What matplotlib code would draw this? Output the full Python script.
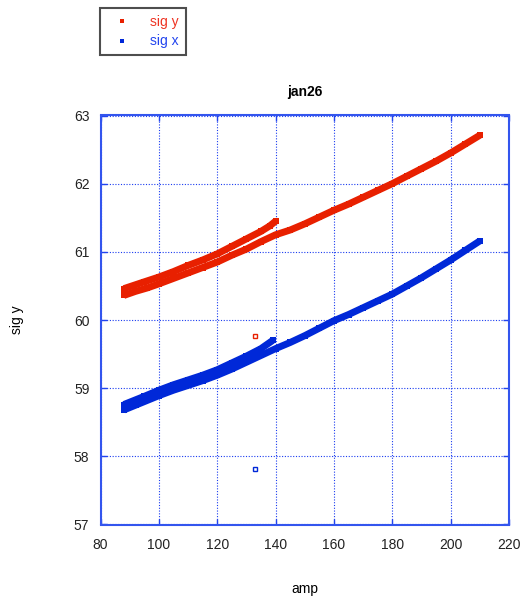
import matplotlib.pyplot as plt

plt.rcParams['font.family'] = ['Liberation Sans', 'DejaVu Sans']

# sig y (red): main band and the short upper branch
sigy_amp = [88, 92, 96, 100, 105, 110, 115, 120, 125, 130, 135, 140, 145, 150,
            155, 160, 165, 170, 175, 180, 185, 190, 195, 200, 205, 210]
sigy_val = [60.36, 60.42, 60.47, 60.53, 60.61, 60.69, 60.77, 60.85, 60.95, 61.04,
            61.15, 61.25, 61.32, 61.41, 61.51, 61.61, 61.70, 61.80, 61.90, 62.00,
            62.11, 62.22, 62.33, 62.45, 62.58, 62.71]
sigy_amp2 = [88, 95, 100, 105, 110, 115, 120, 125, 130, 135, 138, 140]
sigy_val2 = [60.46, 60.56, 60.63, 60.71, 60.80, 60.88, 60.97, 61.08, 61.19, 61.30, 61.38, 61.45]

# sig x (blue)
sigx_amp = [88, 92, 96, 100, 105, 110, 115, 120, 125, 130, 135, 140, 145, 150,
            155, 160, 165, 170, 175, 180, 185, 190, 195, 200, 205, 210]
sigx_val = [58.68, 58.75, 58.82, 58.89, 58.97, 59.04, 59.11, 59.19, 59.28, 59.38,
            59.48, 59.58, 59.67, 59.77, 59.88, 59.99, 60.08, 60.18, 60.28, 60.38,
            60.50, 60.62, 60.75, 60.88, 61.02, 61.16]
sigx_amp2 = [88, 95, 100, 105, 110, 115, 120, 125, 130, 135, 139]
sigx_val2 = [58.76, 58.88, 58.97, 59.05, 59.12, 59.19, 59.27, 59.37, 59.47, 59.58, 59.70]

# stray points
out_amp = [133, 133]
out_sigy = [59.77]
out_sigx = [57.82]

red = '#e82000'
blue = '#0028d8'

fig = plt.figure(figsize=(5.22, 5.96), dpi=100)
ax = fig.add_axes([100.5 / 522, 1 - 524.5 / 596, 408.5 / 522, 409 / 596])

for a, v in [(sigy_amp, sigy_val), (sigy_amp2, sigy_val2)]:
    ax.plot(a, v, color=red, lw=5, solid_capstyle='butt', solid_joinstyle='round',
            marker='s', ms=4.5, mew=0)
for a, v in [(sigx_amp, sigx_val), (sigx_amp2, sigx_val2)]:
    ax.plot(a, v, color=blue, lw=5, solid_capstyle='butt', solid_joinstyle='round',
            marker='s', ms=4.5, mew=0)
ax.plot(out_amp[0], out_sigy[0], 's', ms=3, mfc='none', mec=red, mew=1)
ax.plot(out_amp[1], out_sigx[0], 's', ms=3, mfc='none', mec=blue, mew=1)

ax.set_xlim(80, 220)
ax.set_ylim(57, 63)
ax.set_xticks(range(80, 221, 20))
ax.set_yticks(range(57, 64))
ax.grid(True, color='#1a3cf0', linestyle=(0, (1, 1.5)), linewidth=0.8)
for s in ax.spines.values():
    s.set_color('#3355ee')
    s.set_linewidth(1.5)
ax.tick_params(direction='in', length=4, width=1, color='#2244ee',
               top=True, right=True, labelsize=10, colors='#2244ee',
               labelcolor='#222222')
ax.tick_params(axis='y', pad=8)
ax.tick_params(axis='x', pad=10)

ax.set_title('jan26', fontsize=10, fontweight='bold', pad=14)
ax.set_xlabel('amp', fontsize=10, labelpad=21)
ax.set_ylabel('sig y', fontsize=10, labelpad=36)

h1, = ax.plot([], [], 's', ms=2.5, color=red, mew=0)
h2, = ax.plot([], [], 's', ms=2.5, color=blue, mew=0)
leg = fig.legend([h1, h2], ['sig y', 'sig x'], loc='upper left',
                 bbox_to_anchor=(100 / 522, 1 - 8 / 596), borderaxespad=0,
                 fontsize=10, frameon=True, fancybox=False, handlelength=2.2,
                 handletextpad=0.9, borderpad=0.5, labelspacing=0.4)
leg.get_frame().set_edgecolor('#222222')
leg.get_frame().set_linewidth(1.5)
for t, c in zip(leg.get_texts(), ['#ee3322', '#2244ee']):
    t.set_color(c)

fig.savefig('out.png', dpi=100)
